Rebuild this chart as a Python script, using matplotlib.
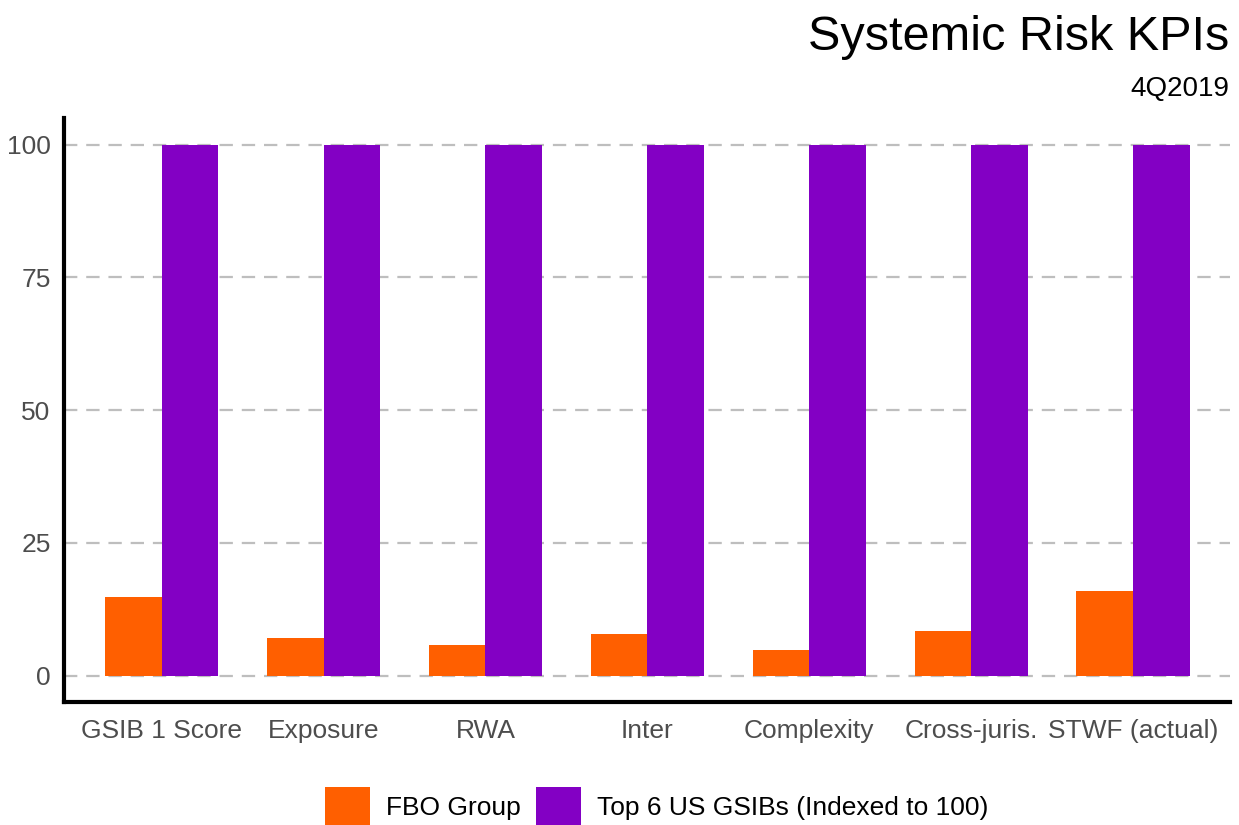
import matplotlib.pyplot as plt
import numpy as np
from matplotlib.patches import Patch

categories = ["GSIB 1 Score", "Exposure", "RWA", "Inter", "Complexity",
              "Cross-juris.", "STWF (actual)"]
fbo_group = [14.7, 7.1, 5.8, 7.9, 4.8, 8.3, 15.9]
top6_gsibs = [100, 100, 100, 100, 100, 100, 100]
series_names = ["FBO Group", "Top 6 US GSIBs (Indexed to 100)"]
colors = ["#FF5F00", "#8300C4"]

plt.rcParams['font.family'] = ['Liberation Sans', 'DejaVu Sans']

fig = plt.figure(figsize=(12.39, 8.25), dpi=100)
ax = fig.add_axes([0.052, 0.149, 0.941, 0.708])

x = np.arange(len(categories))
w = 0.35
ax.bar(x - w / 2, fbo_group, w, color=colors[0], zorder=2)
ax.bar(x + w / 2, top6_gsibs, w, color=colors[1], zorder=2)

ax.set_xlim(-0.6, len(categories) - 0.4)
ax.set_ylim(-5, 105)
ax.set_yticks([0, 25, 50, 75, 100])
ax.set_xticks(x)
ax.set_xticklabels(categories)
ax.yaxis.grid(True, color="#bebebe", linestyle=(0, (6, 4)), linewidth=1.6, zorder=0)
ax.tick_params(axis="both", length=0, labelsize=19, colors="#4d4d4d")
ax.tick_params(axis="y", pad=10)
ax.tick_params(axis="x", pad=12)

for s in ["top", "right"]:
    ax.spines[s].set_visible(False)
for s in ["left", "bottom"]:
    ax.spines[s].set_linewidth(3)
    ax.spines[s].set_color("black")

fig.text(0.992, 0.94, "Systemic Risk KPIs", ha="right", va="baseline", fontsize=35)
fig.text(0.992, 0.884, "4Q2019", ha="right", va="baseline", fontsize=20)

handles = [Patch(facecolor=c) for c in colors]
fig.legend(handles, series_names, loc="lower center", bbox_to_anchor=(0.53, -0.03),
           ncol=2, frameon=False, fontsize=19, handlelength=1.7, handleheight=1.9,
           handletextpad=0.6, columnspacing=0.6)

fig.savefig("out.png", dpi=100)
